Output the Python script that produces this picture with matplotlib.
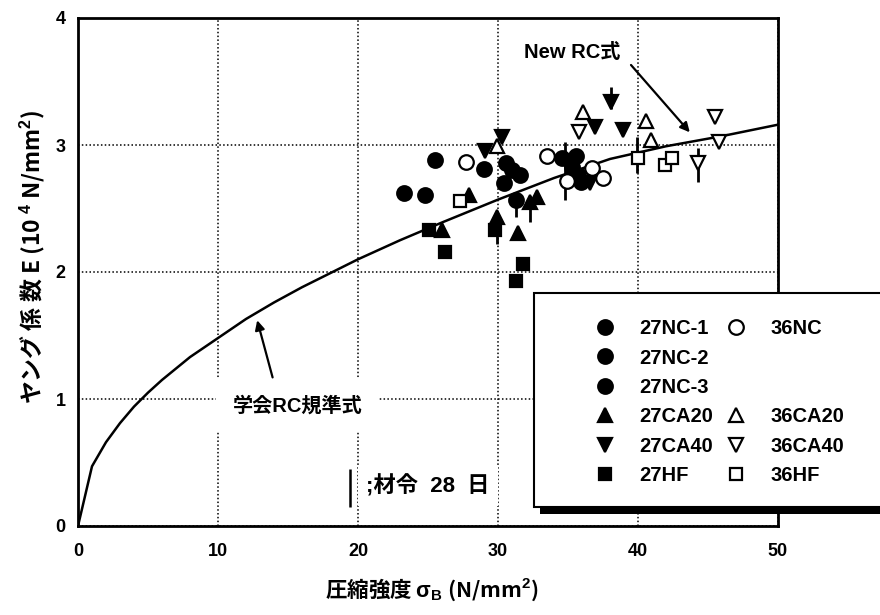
import matplotlib
matplotlib.use("Agg")
import matplotlib.pyplot as plt
from matplotlib.lines import Line2D
from matplotlib.patches import Rectangle

plt.rcParams["font.family"] = ["Liberation Sans", "Noto Sans CJK JP", "DejaVu Sans"]
plt.rcParams["font.weight"] = "bold"
plt.rcParams["mathtext.fontset"] = "custom"
plt.rcParams["mathtext.rm"] = "Liberation Sans:bold"
plt.rcParams["mathtext.it"] = "Liberation Sans:bold"

JP = "Noto Sans CJK JP"

# design curve (学会RC規準式 / New RC式), E read at sample strengths
curve_x = [0, 1, 2, 3, 4, 5, 6, 7, 8, 10, 12, 14, 16, 18, 20, 23, 26, 30, 34, 38, 42, 46, 50]
curve_e = [0, 0.47, 0.66, 0.81, 0.94, 1.05, 1.15, 1.24, 1.33, 1.48, 1.63, 1.76, 1.88,
           1.99, 2.10, 2.25, 2.39, 2.57, 2.74, 2.89, 2.99, 3.07, 3.16]

# test results: compressive strength (N/mm2), Young's modulus (10^4 N/mm2)
nc1_x = [23.3, 24.8, 25.5, 29.0]
nc1_e = [2.62, 2.61, 2.88, 2.81]
nc2_x = [30.6, 31.0, 31.6, 30.4, 31.3]
nc2_e = [2.86, 2.80, 2.76, 2.70, 2.57]
nc3_x = [34.6, 35.6, 35.3, 35.7, 35.9]
nc3_e = [2.90, 2.91, 2.83, 2.76, 2.71]
nc36_x = [27.7, 33.5, 34.9, 36.7, 37.5]
nc36_e = [2.87, 2.91, 2.72, 2.82, 2.74]
ca20_x = [27.9, 26.0, 31.4, 32.3, 32.8, 29.9]
ca20_e = [2.61, 2.33, 2.31, 2.55, 2.59, 2.43]
ca20_36_x = [29.9, 36.1, 40.6, 40.9]
ca20_36_e = [2.99, 3.26, 3.19, 3.04]
ca40_x = [30.3, 29.1, 36.9, 38.1, 38.9, 36.6]
ca40_e = [3.06, 2.95, 3.14, 3.34, 3.12, 2.70]
ca40_36_x = [35.8, 44.3, 45.5, 45.8]
ca40_36_e = [3.10, 2.86, 3.22, 3.02]
hf_x = [25.1, 26.2, 29.8, 31.8, 31.3]
hf_e = [2.33, 2.16, 2.33, 2.06, 1.93]
hf36_x = [27.3, 40.0, 41.9, 42.4]
hf36_e = [2.56, 2.90, 2.84, 2.90]

# 28-day age ranges
age28_x = [29.9, 31.3, 32.3, 34.8, 38.1, 39.9, 44.3]
age28_lo = [2.22, 2.43, 2.39, 2.57, 3.28, 2.78, 2.71]
age28_hi = [2.40, 2.57, 2.60, 3.02, 3.46, 3.06, 2.98]

fig = plt.figure(figsize=(8.8, 6.15), dpi=100)
ax = fig.add_axes([78 / 880, 89 / 615, 700 / 880, 508 / 615])

ax.plot(curve_x, curve_e, color="black", lw=1.8, zorder=3)
ax.vlines(age28_x, age28_lo, age28_hi, color="black", lw=2, zorder=4)

ms = 10.5
groups = [
    ("27NC-1", nc1_x, nc1_e, "o", True),
    ("27NC-2", nc2_x, nc2_e, "o", True),
    ("27NC-3", nc3_x, nc3_e, "o", True),
    ("27CA20", ca20_x, ca20_e, "^", True),
    ("27CA40", ca40_x, ca40_e, "v", True),
    ("27HF", hf_x, hf_e, "s", True),
    ("36NC", nc36_x, nc36_e, "o", False),
    ("36CA20", ca20_36_x, ca20_36_e, "^", False),
    ("36CA40", ca40_36_x, ca40_36_e, "v", False),
    ("36HF", hf36_x, hf36_e, "s", False),
]
handles = {}
for label, xs, es, mk, filled in groups:
    size = ms - 1.5 if mk == "s" else ms
    (h,) = ax.plot(xs, es, linestyle="none", marker=mk, markersize=size,
                   markerfacecolor="black" if filled else "white",
                   markeredgecolor="black", markeredgewidth=1.6, label=label, zorder=5)
    handles[label] = h

ax.set_xlim(0, 50)
ax.set_ylim(0, 4)
ax.set_xticks([0, 10, 20, 30, 40, 50])
ax.set_yticks([0, 1, 2, 3, 4])
ax.tick_params(length=0, labelsize=13)
ax.tick_params(axis="x", pad=12)
ax.tick_params(axis="y", pad=9)
for t in ax.get_xticklabels() + ax.get_yticklabels():
    t.set_fontweight("bold")
ax.grid(True, color="black", linestyle=(0, (1, 1.5)), lw=1.1)
for sp in ax.spines.values():
    sp.set_linewidth(2)

ax.set_xlabel(r"圧縮強度 $\sigma_{\rm B}$ (N/mm$^2$)", fontsize=15.5,
              fontweight="bold", fontfamily=JP)
ax.xaxis.set_label_coords(0.505, -0.1)
ax.set_ylabel(r"ヤング 係 数 E (10 $^{4}$ N/mm$^2$)", fontsize=16.5,
              fontweight="bold", fontfamily=JP)
ax.yaxis.set_label_coords(-0.045, 0.53)

# annotations
arrow = dict(arrowstyle="-|>", color="black", lw=1.6, shrinkA=0, shrinkB=0,
             mutation_scale=14)
ax.text(35.3, 3.73, "New RC式", fontsize=14.5, fontweight="bold",
        ha="center", va="center")
ax.annotate("", xy=(43.7, 3.10), xytext=(39.5, 3.63), arrowprops=arrow)
ax.text(15.7, 0.95, "学会RC規準式", fontsize=14.5, fontweight="bold",
        ha="center", va="center",
        bbox=dict(facecolor="white", edgecolor="none", pad=12))
ax.annotate("", xy=(12.8, 1.62), xytext=(13.9, 1.17), arrowprops=arrow)
ax.vlines([19.4], [0.15], [0.45], color="black", lw=1.8, zorder=4)
ax.text(20.6, 0.31, ";材令  28  日", fontsize=16, fontweight="bold", va="center",
        bbox=dict(facecolor="white", edgecolor="none", pad=6))

# legend box with drop shadow
fig.add_artist(Rectangle((540 / 880, 1 - 514 / 615), 600 / 880, 214 / 615,
                         transform=fig.transFigure, facecolor="black",
                         edgecolor="none", zorder=6))
fig.add_artist(Rectangle((534 / 880, 1 - 507 / 615), 600 / 880, 214 / 615,
                         transform=fig.transFigure, facecolor="white",
                         edgecolor="black", lw=1.5, zorder=7))
blank = Line2D([], [], linestyle="none")
order = ["27NC-1", "27NC-2", "27NC-3", "27CA20", "27CA40", "27HF",
         "36NC", None, None, "36CA20", "36CA40", "36HF"]
leg_h = [handles[k] if k else blank for k in order]
leg_l = [k if k else "" for k in order]
leg = fig.legend(leg_h, leg_l, loc="upper left", bbox_to_anchor=(583 / 880, 1 - 309 / 615),
                 ncol=2, frameon=False, borderpad=0, handlelength=1.2,
                 handletextpad=1.1, columnspacing=0.55, labelspacing=0.52,
                 prop={"weight": "bold", "size": 14.5})
leg.set_zorder(8)

fig.savefig("out.png", dpi=100)
